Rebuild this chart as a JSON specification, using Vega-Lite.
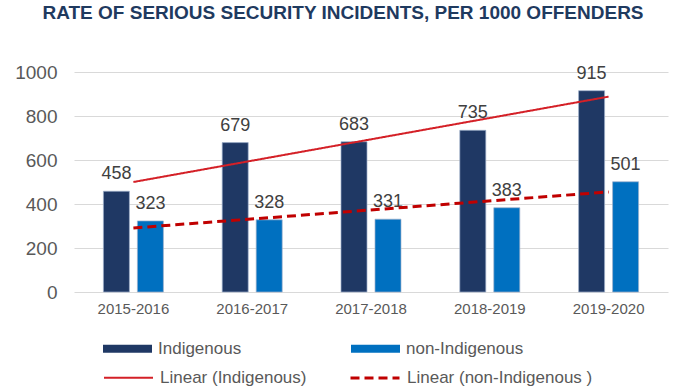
{
  "$schema": "https://vega.github.io/schema/vega-lite/v6.json",
  "width": 594,
  "height": 220,
  "autosize": {"type": "none"},
  "padding": {"left": 74, "top": 72, "right": 10, "bottom": 100},
  "background": "white",
  "config": {
    "font": "Liberation Sans",
    "view": {"stroke": null},
    "axis": {"labelFont": "Liberation Sans", "labelColor": "#595959", "title": null}
  },
  "title": {
    "text": "RATE OF SERIOUS SECURITY INCIDENTS, PER 1000 OFFENDERS",
    "fontSize": 19,
    "fontWeight": "bold",
    "color": "#1f3a5f",
    "font": "Liberation Sans",
    "anchor": "middle",
    "frame": "group",
    "dx": -28,
    "baseline": "alphabetic",
    "offset": 25
  },
  "datasets": {
    "bars": [
      {"period": "2015-2016", "group": "Indigenous", "value": 458},
      {"period": "2015-2016", "group": "non-Indigenous", "value": 323},
      {"period": "2016-2017", "group": "Indigenous", "value": 679},
      {"period": "2016-2017", "group": "non-Indigenous", "value": 328},
      {"period": "2017-2018", "group": "Indigenous", "value": 683},
      {"period": "2017-2018", "group": "non-Indigenous", "value": 331},
      {"period": "2018-2019", "group": "Indigenous", "value": 735},
      {"period": "2018-2019", "group": "non-Indigenous", "value": 383},
      {"period": "2019-2020", "group": "Indigenous", "value": 915},
      {"period": "2019-2020", "group": "non-Indigenous", "value": 501}
    ],
    "trends": [
      {"period": "2015-2016", "trend": "Linear (Indigenous)", "value": 500},
      {"period": "2019-2020", "trend": "Linear (Indigenous)", "value": 888},
      {"period": "2015-2016", "trend": "Linear (non-Indigenous )", "value": 291},
      {"period": "2019-2020", "trend": "Linear (non-Indigenous )", "value": 455}
    ]
  },
  "layer": [
    {
      "data": {"name": "bars"},
      "mark": {"type": "bar", "stroke": "#9fb0cc", "strokeWidth": 0.7},
      "encoding": {
        "x": {
          "field": "period", "type": "nominal",
          "scale": {"paddingInner": 0.495, "paddingOuter": 0.2475},
          "axis": {"labelFontSize": 15, "labelPadding": 9, "ticks": false, "domain": false, "labelAngle": 0}
        },
        "xOffset": {
          "field": "group", "type": "nominal",
          "scale": {"paddingInner": 0.235, "paddingOuter": 0}
        },
        "y": {
          "field": "value", "type": "quantitative",
          "scale": {"domain": [0, 1000]},
          "axis": {
            "values": [0, 200, 400, 600, 800, 1000], "format": "d",
            "labelFontSize": 19, "labelPadding": 17, "ticks": false, "tickSize": 0,
            "domain": false, "gridColor": "#d9d9d9", "gridWidth": 1.2
          }
        },
        "color": {
          "field": "group", "type": "nominal",
          "scale": {"domain": ["Indigenous", "non-Indigenous"], "range": ["#1f3864", "#0070c0"]},
          "legend": {
            "title": null, "orient": "none", "legendX": 29, "legendY": 252,
            "direction": "horizontal", "padding": 0,
            "symbolType": "M-1,-0.165H1V0.165H-1Z", "symbolSize": 2401,
            "labelFontSize": 17, "labelColor": "#595959", "labelOffset": 6, "labelLimit": 300,
            "columnPadding": 109, "symbolStrokeWidth": 0
          }
        }
      }
    },
    {
      "data": {"name": "bars"},
      "mark": {"type": "text", "fontSize": 18, "color": "#404040", "baseline": "alphabetic", "dy": -12},
      "encoding": {
        "x": {"field": "period", "type": "nominal"},
        "xOffset": {"field": "group", "type": "nominal"},
        "y": {"field": "value", "type": "quantitative"},
        "text": {"field": "value", "type": "quantitative"}
      }
    },
    {
      "data": {"name": "trends"},
      "mark": {"type": "line"},
      "encoding": {
        "x": {"field": "period", "type": "nominal"},
        "y": {"field": "value", "type": "quantitative"},
        "detail": {"field": "trend"},
        "stroke": {
          "field": "trend", "type": "nominal",
          "scale": {"domain": ["Linear (Indigenous)", "Linear (non-Indigenous )"], "range": ["#d42027", "#c00000"]},
          "legend": {
            "title": null, "orient": "none", "legendX": 29, "legendY": 280,
            "direction": "horizontal", "padding": 0,
            "symbolType": "stroke", "symbolSize": 2401, "symbolStrokeWidth": 2.5,
            "labelFontSize": 17, "labelColor": "#595959", "labelOffset": 6, "labelLimit": 300,
            "columnPadding": 37
          }
        },
        "strokeDash": {
          "field": "trend", "type": "nominal",
          "scale": {"domain": ["Linear (Indigenous)", "Linear (non-Indigenous )"], "range": [[1, 0], [9, 5]]}
        },
        "strokeWidth": {
          "field": "trend", "type": "ordinal",
          "scale": {"domain": ["Linear (Indigenous)", "Linear (non-Indigenous )"], "range": [2, 3]},
          "legend": null
        }
      }
    }
  ]
}
